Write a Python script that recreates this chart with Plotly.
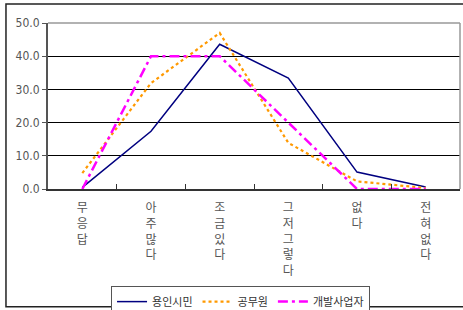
import plotly.graph_objects as go

categories = ["무<br>응<br>답", "아<br>주<br>많<br>다", "조<br>금<br>있<br>다",
              "그<br>저<br>그<br>렇<br>다", "없<br>다", "전<br>혀<br>없<br>다"]
series_names = ["용인시민", "공무원", "개발사업자"]
yongin = [0.5, 17.4, 43.6, 33.4, 5.1, 0.6]
gongmuwon = [4.8, 31.9, 47.0, 13.9, 2.3, 0.3]
developer = [0.0, 40.0, 40.0, 19.9, 0.0, 0.0]
y_ticks = [0, 10, 20, 30, 40, 50]

fig = go.Figure()
fig.add_trace(go.Scatter(x=categories, y=yongin, name=series_names[0], mode="lines",
                         line=dict(color="#000080", width=1.5)))
fig.add_trace(go.Scatter(x=categories, y=gongmuwon, name=series_names[1], mode="lines",
                         line=dict(color="#FF9900", width=2.2, dash="dot")))
fig.add_trace(go.Scatter(x=categories, y=developer, name=series_names[2], mode="lines",
                         line=dict(color="#FF00FF", width=2.5, dash="10px,4px,3px,4px")))

font_family = "Noto Sans CJK KR, DejaVu Sans, sans-serif"

fig.update_layout(
    width=463, height=310,
    margin=dict(l=48, r=3, t=23, b=121, autoexpand=False),
    paper_bgcolor="white", plot_bgcolor="white",
    font=dict(family=font_family, size=12, color="#444"),
    showlegend=True,
    legend=dict(orientation="h", x=0.153, y=-0.585, xanchor="left", yanchor="top",
                bordercolor="#555", borderwidth=1, bgcolor="white",
                font=dict(size=11, color="#333"), itemwidth=30,
                traceorder="normal", tracegroupgap=0),
    xaxis=dict(type="category", showgrid=False, showline=True, linecolor="#333",
               linewidth=2, ticks="inside", ticklen=5, tickcolor="#333",
               tickson="boundaries", tickangle=0, automargin=False,
               ticklabelstandoff=7,
               tickfont=dict(size=12, color="#555", family=font_family),
               range=[-0.5, 5.5], zeroline=False),
    yaxis=dict(range=[0, 50], tickvals=y_ticks, tickformat=".1f",
               showgrid=True, gridcolor="black", gridwidth=1,
               showline=True, linecolor="#555", linewidth=2, automargin=False,
               ticks="outside", ticklen=4, tickcolor="#555",
               tickfont=dict(size=12, color="#555", family="DejaVu Sans Condensed, DejaVu Sans, sans-serif"),
               zeroline=False),
    shapes=[
        dict(type="line", xref="paper", yref="paper", x0=0, x1=1, y0=1, y1=1,
             line=dict(color="#999", width=1.5)),
        dict(type="line", xref="paper", yref="paper", x0=1, x1=1, y0=0, y1=1,
             line=dict(color="#999", width=1.5)),
        dict(type="rect", xref="paper", yref="paper", x0=-0.102, x1=1.05,
             y0=-0.709, y1=1.114, line=dict(color="#222", width=1.5)),
    ],
)

fig.write_html("out.html", config={"displayModeBar": False},
               post_script="document.body.style.margin='0';document.body.style.padding='0';document.body.style.overflow='hidden';")
